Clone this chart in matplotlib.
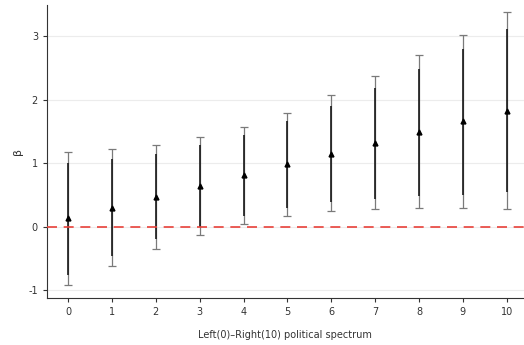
import matplotlib.pyplot as plt
import numpy as np

plt.rcParams['axes.unicode_minus'] = False

# Data
x = np.arange(0, 11)
beta = [0.13, 0.30, 0.47, 0.64, 0.81, 0.98, 1.15, 1.32, 1.49, 1.66, 1.83]
# inner (thick) interval
inner_lo = [-0.76, -0.47, -0.20, 0.00, 0.16, 0.30, 0.39, 0.44, 0.48, 0.50, 0.54]
inner_hi = [1.00, 1.06, 1.15, 1.28, 1.44, 1.66, 1.91, 2.19, 2.49, 2.80, 3.12]
# outer (capped) interval
outer_lo = [-0.92, -0.62, -0.35, -0.13, 0.04, 0.16, 0.24, 0.27, 0.29, 0.30, 0.28]
outer_hi = [1.17, 1.22, 1.28, 1.41, 1.57, 1.80, 2.07, 2.37, 2.70, 3.03, 3.38]

beta = np.array(beta)

fig = plt.figure(figsize=(5.24, 3.45), dpi=100)
ax = fig.add_axes([0.0897, 0.136, 0.91, 0.85])

# horizontal grid
for yv in [-1, 0, 1, 2, 3]:
    ax.axhline(yv, color='#ececec', lw=0.8, zorder=0)

# outer interval with caps
ax.errorbar(x, beta, yerr=[beta - np.array(outer_lo), np.array(outer_hi) - beta],
            fmt='none', ecolor='#7a7a7a', elinewidth=0.9, capsize=3, capthick=0.9, zorder=2)
# inner interval, thick, no caps
ax.errorbar(x, beta, yerr=[beta - np.array(inner_lo), np.array(inner_hi) - beta],
            fmt='none', ecolor='#1a1a1a', elinewidth=1.2, capsize=0, zorder=3)
ax.plot(x, beta, linestyle='none', marker='^', color='black', markersize=3.5, zorder=4)

ax.axhline(0, color='#e8413a', lw=1.2, linestyle=(0, (6, 4)), zorder=3)

ax.set_xlim(-0.48, 10.39)
ax.set_ylim(-1.13, 3.5)
ax.set_xticks(x)
ax.set_yticks([-1, 0, 1, 2, 3])
ax.tick_params(labelsize=7, length=3, width=0.8, colors='#333333')
ax.spines['top'].set_visible(False)
ax.spines['right'].set_visible(False)
ax.spines['left'].set_color('#333333')
ax.spines['bottom'].set_color('#333333')
ax.set_xlabel('Left(0)\u2013Right(10) political spectrum', fontsize=7, color='#333333', labelpad=9)
ax.set_ylabel('\u03b2', fontsize=8, color='#333333', labelpad=4)

fig.savefig('out.png', dpi=100)
